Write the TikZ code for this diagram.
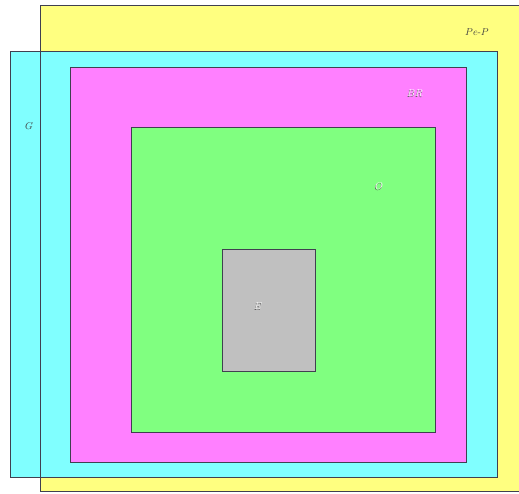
\documentclass[tikz,border=0pt]{standalone}
\usepackage{xcolor}
\definecolor{cyel}{HTML}{FFFF80}
\definecolor{ccyan}{HTML}{80FFFF}
\definecolor{cmag}{HTML}{FF80FF}
\definecolor{cgreen}{HTML}{80FF80}
\definecolor{cgray}{HTML}{C0C0C0}
\definecolor{cline}{HTML}{404050}
\begin{document}
\begin{tikzpicture}[x=1pt,y=-1pt,
  edge/.style={draw=cline,line width=0.7pt,fill=none},
  darklbl/.style={text=black!75,font=\normalsize},
  shadowlbl/.style={text=black!65,font=\normalsize},
  lightlbl/.style={text=white,font=\normalsize}]
\useasboundingbox (0,0) rectangle (519,493);
% fills
\fill[cyel] (40,5) rectangle (525,491);
\fill[ccyan] (10,51) rectangle (497,477);
\fill[cmag] (70,67) rectangle (466,462);
\fill[cgreen] (131,127) rectangle (435,432);
\fill[cgray] (222,249) rectangle (315,371);
% borders
\draw[edge] (40,5) rectangle (525,491);
\draw[edge] (10,51) rectangle (497,477);
\draw[edge] (70,67) rectangle (466,462);
\draw[edge] (131,127) rectangle (435,432);
\draw[edge] (222,249) rectangle (315,371);
% labels
\node[darklbl] (pep) at (477,32) {$Pe$-$P$};
\node[darklbl] (g) at (29,126) {$G$};
\node[shadowlbl] (brs) at (414.5,93.6) {$BR$};
\node[lightlbl] (br) at (415,93) {$BR$};
\node[shadowlbl] (os) at (378.5,186.6) {$O$};
\node[lightlbl] (o) at (379,186) {$O$};
\node[shadowlbl] (es) at (257.5,306.6) {$E$};
\node[lightlbl] (e) at (258,306) {$E$};
\end{tikzpicture}
\end{document}
